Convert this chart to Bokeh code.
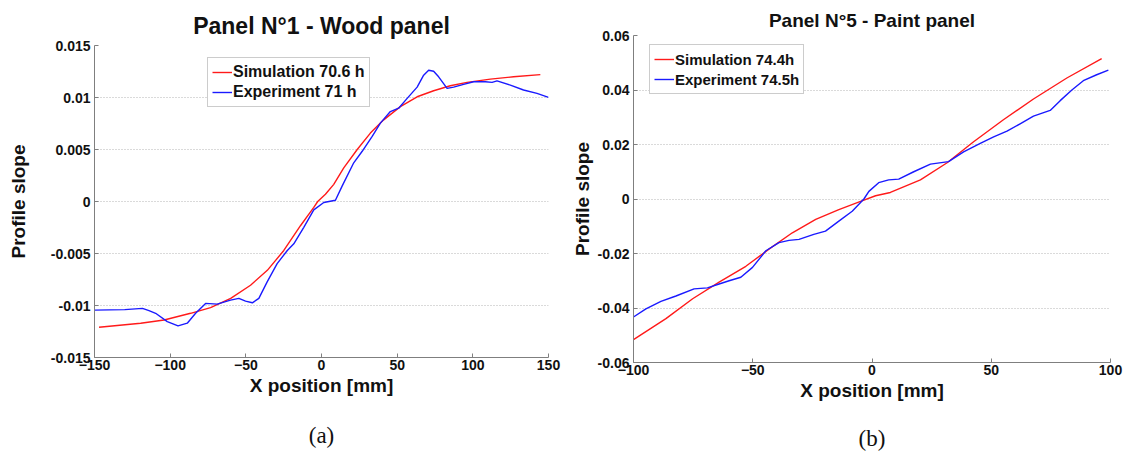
from bokeh.plotting import figure
from bokeh.models import FixedTicker, Legend, LegendItem, Range1d, Title
from bokeh.layouts import row
from bokeh.embed import file_html
from bokeh.resources import INLINE

# ---------------- data ----------------
# Panel 1 (wood)
wood_exp_x = [-150, -130, -118.3, -114, -109.6, -101.9, -94.8, -88.7, -83.2, -76.6, -68.9,
              -60.1, -54.6, -50.2, -45.7, -41.4, -35.9, -29.3, -22.6, -18.3, -11.7, -5.1,
              1.5, 9.2, 13.7, 21.3, 26.9, 33.5, 38.9, 45.5, 51.0, 56.6, 63.2, 67.5, 70.8,
              74.1, 77.4, 83.0, 87.3, 93.9, 100.5, 108.3, 112.7, 116.0, 124.8, 133.5,
              142.4, 150.0]
wood_exp_y = [-0.01044, -0.01040, -0.01028, -0.0105, -0.01075, -0.01155, -0.01196, -0.0117,
              -0.01075, -0.0098, -0.00987, -0.00948, -0.00932, -0.00958, -0.00974, -0.00932,
              -0.00773, -0.00598, -0.00471, -0.00407, -0.00248, -0.0008, -0.0001, 0.00012,
              0.0015, 0.00372, 0.00483, 0.00626, 0.00754, 0.00865, 0.00897, 0.00992, 0.0110,
              0.01215, 0.01262, 0.01253, 0.01199, 0.01088, 0.0110, 0.01126, 0.01151, 0.01151,
              0.01145, 0.0116, 0.01119, 0.01072, 0.0104, 0.01002]
wood_sim_x = [-147, -119.5, -104, -86.5, -73.3, -60, -46.9, -35.8, -24.9, -13.9, -5.1, -2.5,
              2.6, 8.1, 14.7, 23.6, 32.3, 41.1, 52.1, 63.2, 74.1, 85.1, 96.2, 111.6, 126.9,
              144.6]
wood_sim_y = [-0.01209, -0.01171, -0.01139, -0.01075, -0.01021, -0.00932, -0.00805, -0.00662,
              -0.00471, -0.00233, -0.00057, 0.0, 0.0007, 0.00165, 0.00324, 0.005, 0.00658,
              0.00785, 0.00912, 0.01007, 0.01065, 0.01113, 0.01145, 0.01177, 0.01199, 0.0122]

# Panel 5 (paint)
paint_exp_x = [-100, -94.8, -88.5, -82.2, -74.6, -69, -64.1, -59.9, -55, -50.1, -44.5, -39,
               -34.8, -30.6, -24.4, -19.5, -13.9, -8.3, -3.4, -1.3, 2.8, 7, 11.2, 17.5, 24.5,
               32.1, 38.4, 45.4, 51, 56.6, 62.1, 67.7, 74.7, 78.9, 83.8, 88.6, 94.2, 99.1]
paint_exp_y = [-0.0433, -0.0403, -0.0376, -0.0356, -0.033, -0.0326, -0.0312, -0.03, -0.0287,
               -0.0251, -0.019, -0.016, -0.0152, -0.0148, -0.013, -0.0118, -0.0081, -0.0045,
               0.0, 0.0028, 0.006, 0.007, 0.0073, 0.01, 0.0128, 0.0137, 0.0173, 0.0204, 0.0228,
               0.0249, 0.0276, 0.0304, 0.0325, 0.0361, 0.04, 0.0434, 0.0456, 0.0473]
paint_sim_x = [-100, -86.4, -75.2, -64.1, -52.9, -43.2, -33.4, -23.6, -13.9, -4.8, 1.5, 7.7,
               20.3, 31.5, 42.6, 55.1, 67.7, 81.7, 96.3]
paint_sim_y = [-0.0516, -0.0439, -0.0366, -0.0305, -0.0247, -0.0184, -0.0124, -0.0075, -0.0039,
               -0.0009, 0.0012, 0.0024, 0.007, 0.0133, 0.021, 0.0291, 0.0367, 0.0444, 0.0515]

wood_xticks = [-150, -100, -50, 0, 50, 100, 150]
wood_yticks = [-0.015, -0.01, -0.005, 0, 0.005, 0.01, 0.015]
wood_ylabels = ["-0.015", "-0.01", "-0.005", "0", "0.005", "0.01", "0.015"]
paint_xticks = [-100, -50, 0, 50, 100]
paint_yticks = [-0.06, -0.04, -0.02, 0, 0.02, 0.04, 0.06]
paint_ylabels = ["-0.06", "-0.04", "-0.02", "0", "0.02", "0.04", "0.06"]

titles = ["Panel N°1 - Wood panel", "Panel N°5 - Paint panel"]
captions = ["(a)", "(b)"]
legend_labels = [["Simulation 70.6 h", "Experiment 71 h"],
                 ["Simulation 74.4h", "Experiment 74.5h"]]

FONT = "Liberation Sans"
RED = "#ff1a1a"
BLUE = "#1a1aff"
AX = "#7f7f7f"
TXT = "#111111"


def make(width, height, borders, xr, yr, xticks, yticks, ylabels, title, title_size,
         title_standoff, caption, cap_standoff, labels, legend_font, sim, exp, legend_loc,
         ylabel_standoff):
    p = figure(width=width, height=height, output_backend="svg", toolbar_location=None,
               x_range=Range1d(*xr), y_range=Range1d(*yr),
               min_border_left=borders[0], min_border_right=borders[1],
               min_border_top=borders[2], min_border_bottom=borders[3])
    p.outline_line_color = None
    p.background_fill_color = "white"
    p.border_fill_color = "white"
    p.add_layout(Title(text=title, align="center", text_font=FONT,
                       text_font_size=title_size, text_font_style="bold",
                       text_color=TXT, standoff=title_standoff), "above")
    # grid
    p.xgrid.grid_line_color = None
    p.ygrid.grid_line_color = "#b5b5b5"
    p.ygrid.grid_line_dash = "1 2"
    p.ygrid.grid_line_width = 1
    for ax in (p.xaxis[0], p.yaxis[0]):
        ax.axis_line_color = AX
        ax.major_tick_line_color = AX
        ax.major_tick_in = 4
        ax.major_tick_out = 0
        ax.minor_tick_line_color = None
        ax.major_label_text_font = FONT
        ax.major_label_text_font_size = "14px"
        ax.major_label_text_font_style = "bold"
        ax.major_label_text_color = TXT
        ax.axis_label_text_font = FONT
        ax.axis_label_text_font_size = "19px"
        ax.axis_label_text_font_style = "bold"
        ax.axis_label_text_color = TXT
    p.xaxis.ticker = FixedTicker(ticks=xticks)
    p.yaxis.ticker = FixedTicker(ticks=yticks)
    p.yaxis.major_label_overrides = {t: l for t, l in zip(yticks, ylabels)}
    p.xaxis.major_label_standoff = 2
    p.yaxis.major_label_standoff = 4
    p.xaxis.axis_label = "X position [mm]"
    p.yaxis.axis_label = "Profile slope"
    p.xaxis.axis_label_standoff = 2
    p.yaxis.axis_label_standoff = ylabel_standoff

    r1 = p.line(sim[0], sim[1], line_color=RED, line_width=1.4, line_join="round")
    r2 = p.line(exp[0], exp[1], line_color=BLUE, line_width=1.4, line_join="round")

    leg = Legend(items=[LegendItem(label=labels[0], renderers=[r1]),
                        LegendItem(label=labels[1], renderers=[r2])],
                 location=legend_loc, label_text_font=FONT, label_text_font_size=legend_font,
                 label_text_font_style="bold", label_text_color=TXT,
                 glyph_width=20, glyph_height=20, label_height=20, label_standoff=1,
                 padding=4, spacing=0, margin=0,
                 border_line_color="#999999", border_line_width=1,
                 background_fill_color="white", background_fill_alpha=1)
    p.add_layout(leg, "center")

    p.add_layout(Title(text=caption, align="center", text_font="Liberation Serif",
                       text_font_size="23px", text_font_style="normal",
                       text_color=TXT, standoff=cap_standoff), "below")
    return p


p1 = make(568, 470, (94, 20, 45, 111), (-150, 150), (-0.015, 0.015), wood_xticks,
          wood_yticks, wood_ylabels, titles[0], "23px", 14, captions[0], 45,
          legend_labels[0], "16px", (wood_sim_x, wood_sim_y), (wood_exp_x, wood_exp_y),
          (113, 250), 19)
p2 = make(558, 470, (64, 16, 35, 106), (-100, 100), (-0.06, 0.06), paint_xticks,
          paint_yticks, paint_ylabels, titles[1], "19px", 10, captions[1], 40,
          legend_labels[1], "15px", (paint_sim_x, paint_sim_y), (paint_exp_x, paint_exp_y),
          (16, 268), 2)

html = None
try:
    from bokeh.core.templates import get_env
    tmpl = get_env().from_string(
        '{% extends "file.html" %}'
        '{% block postamble %}<style>html, body {margin:0 !important; padding:0 !important;'
        ' overflow:hidden !important;}'
        ' body {display:flex !important; flex-direction:row; align-items:flex-start;}'
        '</style>{% endblock %}')
    html = file_html([p1, p2], INLINE, template=tmpl)
except Exception:
    html = file_html(row(p1, p2), INLINE)
open("out.html", "w").write(html)
